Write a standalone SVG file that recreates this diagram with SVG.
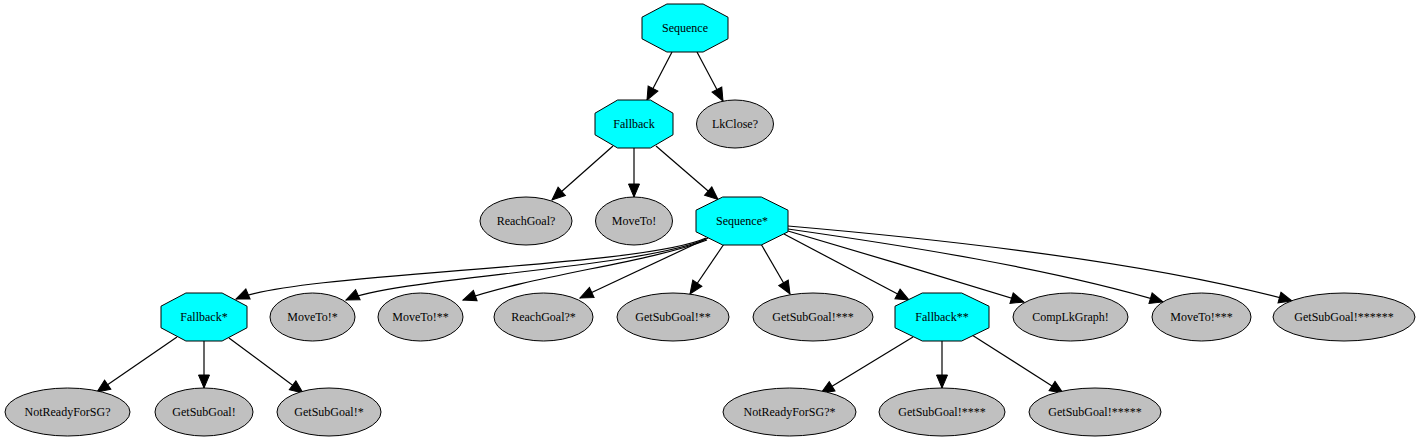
<svg xmlns="http://www.w3.org/2000/svg" width="1419" height="443" viewBox="0 0 1419 443">
<style>
.oct{fill:#00ffff;stroke:#000;stroke-width:1}
.ell{fill:#c0c0c0;stroke:#000;stroke-width:1}
text{font-family:"Liberation Serif","Times New Roman",serif;font-size:12px;fill:#000;text-anchor:middle}
.e{fill:none;stroke:#000;stroke-width:1.2;marker-end:url(#ah)}
</style>
<defs>
<marker id="ah" markerUnits="userSpaceOnUse" markerWidth="14" markerHeight="12" refX="13" refY="5.5" orient="auto" overflow="visible">
<path d="M0,0 L13,5.5 L0,11 z" fill="#000" stroke="#000" stroke-width="1"/>
</marker>
</defs>
<rect width="1419" height="443" fill="#fff"/>
<g id="edges">
<path class="e" d="M672,52 L647,100"/>
<path class="e" d="M697,52 L723,101"/>
<path class="e" d="M613,146 L552,200"/>
<path class="e" d="M634,148 L634,197"/>
<path class="e" d="M656,146 L718,199.5"/>
<path class="e" d="M706,238 C640,268 300,272 236,299"/>
<path class="e" d="M706,239 C640,268 395,278 346,300"/>
<path class="e" d="M707,240 C650,262 530,276 463,300"/>
<path class="e" d="M708,238 L580,298"/>
<path class="e" d="M724,244 L690,294"/>
<path class="e" d="M761,244 L790,294"/>
<path class="e" d="M784,234 L909,300"/>
<path class="e" d="M788,231 C860,252 960,282 1024,302"/>
<path class="e" d="M788,229 C900,245 1050,268 1163,302"/>
<path class="e" d="M788,226 C950,240 1150,262 1292,301"/>
<path class="e" d="M177,337 L97,392"/>
<path class="e" d="M204,341 L204,388"/>
<path class="e" d="M229,338 L303,393"/>
<path class="e" d="M913,337 L821,393"/>
<path class="e" d="M942,341 L942,388"/>
<path class="e" d="M972,335 L1063,393"/>
</g>
<g id="n_sequence"><polygon class="oct" points="666.9,4 703.1,4 728,17.2 728,38.8 703.1,52 666.9,52 642,38.8 642,17.2"/><text x="685" y="32">Sequence</text></g>
<g id="n_fallback"><polygon class="oct" points="617.6,100 650.4,100 673,113.2 673,134.8 650.4,148 617.6,148 595,134.8 595,113.2"/><text x="634" y="128">Fallback</text></g>
<g id="n_lkclose"><ellipse class="ell" cx="735" cy="124" rx="38.5" ry="24"/><text x="735" y="128">LkClose?</text></g>
<g id="n_reachgoal"><ellipse class="ell" cx="526" cy="221" rx="46" ry="24"/><text x="526" y="225">ReachGoal?</text></g>
<g id="n_moveto"><ellipse class="ell" cx="634" cy="221" rx="38.5" ry="24"/><text x="634" y="225">MoveTo!</text></g>
<g id="n_sequence1"><polygon class="oct" points="722.7,197 761.3,197 788,210.2 788,231.8 761.3,245 722.7,245 696,231.8 696,210.2"/><text x="742" y="225">Sequence*</text></g>
<g id="n_fallback1"><polygon class="oct" points="185.9,293 222.1,293 247,306.2 247,327.8 222.1,341 185.9,341 161,327.8 161,306.2"/><text x="204" y="321">Fallback*</text></g>
<g id="n_moveto1"><ellipse class="ell" cx="312.5" cy="317" rx="42.5" ry="24"/><text x="312.5" y="321">MoveTo!*</text></g>
<g id="n_moveto2"><ellipse class="ell" cx="420.5" cy="317" rx="42.5" ry="24"/><text x="420.5" y="321">MoveTo!**</text></g>
<g id="n_reachgoal1"><ellipse class="ell" cx="543.5" cy="317" rx="49.5" ry="24"/><text x="543.5" y="321">ReachGoal?*</text></g>
<g id="n_getsubgoal2"><ellipse class="ell" cx="673" cy="317" rx="56" ry="24"/><text x="673" y="321">GetSubGoal!**</text></g>
<g id="n_getsubgoal3"><ellipse class="ell" cx="813" cy="317" rx="60" ry="24"/><text x="813" y="321">GetSubGoal!***</text></g>
<g id="n_fallback2"><polygon class="oct" points="922.3,293 961.7,293 989,306.2 989,327.8 961.7,341 922.3,341 895,327.8 895,306.2"/><text x="942" y="321">Fallback**</text></g>
<g id="n_complkgraph"><ellipse class="ell" cx="1070.5" cy="317" rx="57.5" ry="24"/><text x="1070.5" y="321">CompLkGraph!</text></g>
<g id="n_moveto3"><ellipse class="ell" cx="1201.5" cy="317" rx="49.5" ry="24"/><text x="1201.5" y="321">MoveTo!***</text></g>
<g id="n_getsubgoal6"><ellipse class="ell" cx="1344" cy="317" rx="71" ry="24"/><text x="1344" y="321">GetSubGoal!******</text></g>
<g id="n_notready"><ellipse class="ell" cx="67.5" cy="412" rx="62.5" ry="24"/><text x="67.5" y="416">NotReadyForSG?</text></g>
<g id="n_getsubgoal"><ellipse class="ell" cx="204" cy="412" rx="49" ry="24"/><text x="204" y="416">GetSubGoal!</text></g>
<g id="n_getsubgoal1"><ellipse class="ell" cx="329" cy="412" rx="52" ry="24"/><text x="329" y="416">GetSubGoal!*</text></g>
<g id="n_notready1"><ellipse class="ell" cx="789.5" cy="412" rx="66.5" ry="24"/><text x="789.5" y="416">NotReadyForSG?*</text></g>
<g id="n_getsubgoal4"><ellipse class="ell" cx="942" cy="412" rx="63" ry="24"/><text x="942" y="416">GetSubGoal!****</text></g>
<g id="n_getsubgoal5"><ellipse class="ell" cx="1095" cy="412" rx="66" ry="24"/><text x="1095" y="416">GetSubGoal!*****</text></g>
</svg>
